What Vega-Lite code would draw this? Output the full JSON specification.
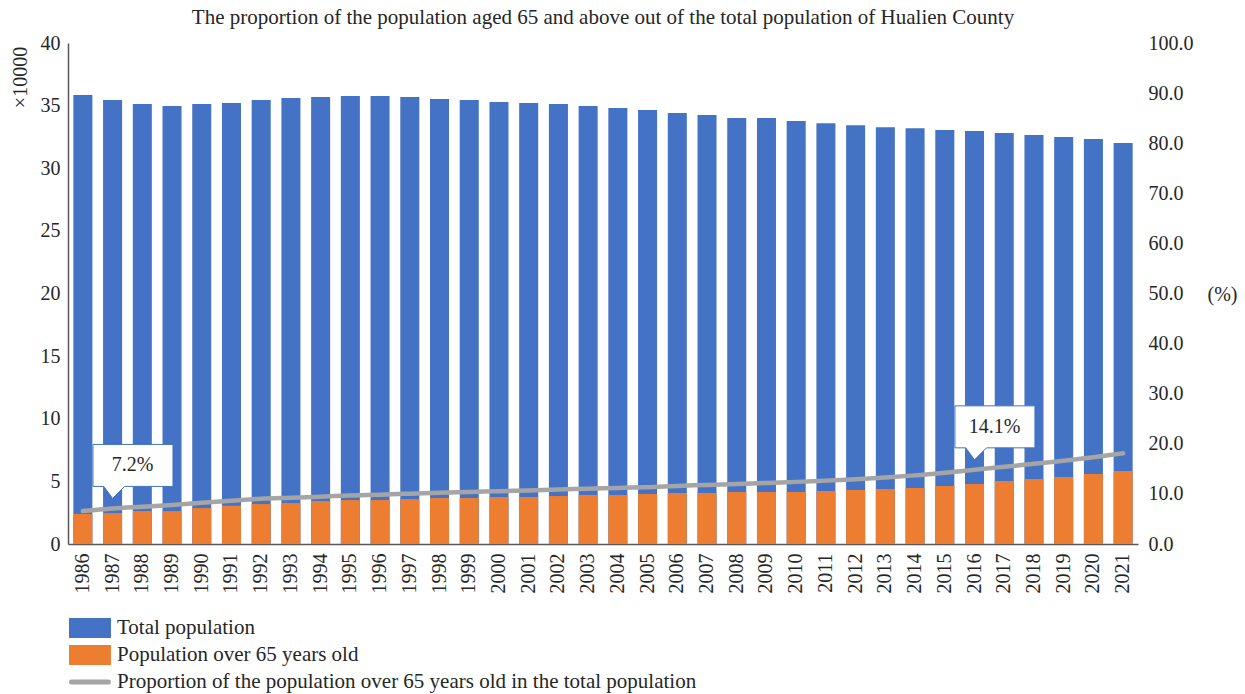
{
  "$schema": "https://vega.github.io/schema/vega-lite/v6.json",
  "width": 1070,
  "height": 501,
  "autosize": {"type": "none"},
  "padding": {"left": 68, "top": 43, "right": 107, "bottom": 150},
  "background": "white",
  "title": {
    "text": "The proportion of the population aged 65 and above out of the total population of Hualien County",
    "font": "Liberation Serif",
    "fontSize": 21,
    "fontWeight": "normal",
    "color": "#262626",
    "anchor": "middle",
    "offset": 5
  },
  "data": {
    "values": [
      {"year": "1986", "total": 35.85, "over65": 2.40, "pct": 6.6, "label": null},
      {"year": "1987", "total": 35.45, "over65": 2.47, "pct": 7.1, "label": "7.2%"},
      {"year": "1988", "total": 35.13, "over65": 2.63, "pct": 7.45, "label": null},
      {"year": "1989", "total": 34.97, "over65": 2.63, "pct": 7.8, "label": null},
      {"year": "1990", "total": 35.13, "over65": 2.87, "pct": 8.25, "label": null},
      {"year": "1991", "total": 35.21, "over65": 3.06, "pct": 8.65, "label": null},
      {"year": "1992", "total": 35.45, "over65": 3.19, "pct": 9.05, "label": null},
      {"year": "1993", "total": 35.61, "over65": 3.27, "pct": 9.25, "label": null},
      {"year": "1994", "total": 35.69, "over65": 3.43, "pct": 9.45, "label": null},
      {"year": "1995", "total": 35.77, "over65": 3.51, "pct": 9.7, "label": null},
      {"year": "1996", "total": 35.77, "over65": 3.51, "pct": 9.85, "label": null},
      {"year": "1997", "total": 35.69, "over65": 3.59, "pct": 10.05, "label": null},
      {"year": "1998", "total": 35.53, "over65": 3.67, "pct": 10.25, "label": null},
      {"year": "1999", "total": 35.45, "over65": 3.67, "pct": 10.4, "label": null},
      {"year": "2000", "total": 35.29, "over65": 3.75, "pct": 10.55, "label": null},
      {"year": "2001", "total": 35.21, "over65": 3.75, "pct": 10.7, "label": null},
      {"year": "2002", "total": 35.13, "over65": 3.83, "pct": 10.9, "label": null},
      {"year": "2003", "total": 34.97, "over65": 3.91, "pct": 11.05, "label": null},
      {"year": "2004", "total": 34.81, "over65": 3.91, "pct": 11.2, "label": null},
      {"year": "2005", "total": 34.65, "over65": 3.99, "pct": 11.35, "label": null},
      {"year": "2006", "total": 34.41, "over65": 4.07, "pct": 11.6, "label": null},
      {"year": "2007", "total": 34.25, "over65": 4.07, "pct": 11.8, "label": null},
      {"year": "2008", "total": 34.01, "over65": 4.15, "pct": 12.0, "label": null},
      {"year": "2009", "total": 34.01, "over65": 4.15, "pct": 12.2, "label": null},
      {"year": "2010", "total": 33.77, "over65": 4.15, "pct": 12.4, "label": null},
      {"year": "2011", "total": 33.6, "over65": 4.23, "pct": 12.65, "label": null},
      {"year": "2012", "total": 33.44, "over65": 4.31, "pct": 12.9, "label": null},
      {"year": "2013", "total": 33.28, "over65": 4.39, "pct": 13.25, "label": null},
      {"year": "2014", "total": 33.2, "over65": 4.47, "pct": 13.7, "label": null},
      {"year": "2015", "total": 33.05, "over65": 4.63, "pct": 14.2, "label": null},
      {"year": "2016", "total": 32.97, "over65": 4.79, "pct": 14.8, "label": "14.1%"},
      {"year": "2017", "total": 32.81, "over65": 5.03, "pct": 15.4, "label": null},
      {"year": "2018", "total": 32.65, "over65": 5.19, "pct": 16.0, "label": null},
      {"year": "2019", "total": 32.5, "over65": 5.35, "pct": 16.6, "label": null},
      {"year": "2020", "total": 32.34, "over65": 5.59, "pct": 17.3, "label": null},
      {"year": "2021", "total": 32.02, "over65": 5.83, "pct": 18.1, "label": null}
    ]
  },
  "encoding": {
    "x": {
      "field": "year",
      "type": "ordinal",
      "scale": {"paddingInner": 0.36, "paddingOuter": 0.18},
      "axis": {
        "title": null,
        "labelAngle": -90,
        "labelFont": "Liberation Serif",
        "labelFontSize": 20,
        "labelColor": "#262626",
        "labelPadding": 9,
        "ticks": false,
        "tickSize": 0,
        "domainColor": "#595959",
        "domainWidth": 1.5,
        "grid": false
      }
    }
  },
  "layer": [
    {
      "layer": [
        {
          "mark": {"type": "bar", "color": "#4472C4"},
          "encoding": {
            "y": {
              "field": "total",
              "type": "quantitative",
              "scale": {"domain": [0, 40]},
              "axis": {
                "orient": "left",
                "values": [0, 5, 10, 15, 20, 25, 30, 35, 40],
                "title": "×10000",
                "titleFont": "Liberation Serif",
                "titleFontSize": 20,
                "titleFontWeight": "normal",
                "titleColor": "#262626",
                "titleAngle": -90,
                "titleAlign": "center",
                "titleBaseline": "middle",
                "titleX": -48,
                "titleY": 34,
                "labelFont": "Liberation Serif",
                "labelFontSize": 20,
                "labelColor": "#262626",
                "labelPadding": 8,
                "ticks": false,
                "tickSize": 0,
                "domainColor": "#595959",
                "domainWidth": 1.5,
                "grid": false
              }
            },
            "color": {
              "datum": "Total population",
              "type": "nominal",
              "scale": {
                "domain": [
                  "Total population",
                  "Population over 65 years old",
                  "Proportion of the population over 65 years old in the total population"
                ],
                "range": ["#4472C4", "#ED7D31", "#A5A5A5"]
              },
              "legend": {
                "title": null,
                "orient": "none",
                "direction": "vertical",
                "legendX": 0,
                "legendY": 575,
                "padding": 0,
                "symbolSize": 196,
                "symbolStrokeWidth": 0,
                "clipHeight": 20,
                "labelOffset": 28,
                "rowPadding": 6,
                "labelFont": "Liberation Serif",
                "labelFontSize": 21,
                "labelColor": "#262626",
                "labelLimit": 900,
                "encode": {
                  "symbols": {
                    "update": {
                      "shape": {"signal": "datum.value === 'Proportion of the population over 65 years old in the total population' ? 'M-1,0H4.28' : 'M-1,-1.07H4.28V1.07H-1Z'"},
                      "fill": {"signal": "datum.value === 'Proportion of the population over 65 years old in the total population' ? 'transparent' : (datum.value === 'Total population' ? '#4472C4' : '#ED7D31')"},
                      "stroke": {"signal": "datum.value === 'Proportion of the population over 65 years old in the total population' ? '#A5A5A5' : 'transparent'"},
                      "strokeWidth": {"value": 5},
                      "strokeCap": {"value": "round"},
                      "opacity": {"value": 1}
                    }
                  }
                }
              }
            }
          }
        },
        {
          "mark": {"type": "bar", "color": "#ED7D31"},
          "encoding": {
            "y": {"field": "over65", "type": "quantitative"},
            "color": {"datum": "Population over 65 years old", "type": "nominal"}
          }
        }
      ]
    },
    {
      "layer": [
        {
          "mark": {"type": "line", "strokeWidth": 4.5, "interpolate": "monotone", "strokeCap": "round"},
          "encoding": {
            "y": {
              "field": "pct",
              "type": "quantitative",
              "scale": {"domain": [0, 100]},
              "axis": {
                "orient": "right",
                "values": [0, 10, 20, 30, 40, 50, 60, 70, 80, 90, 100],
                "format": ".1f",
                "title": "(%)",
                "titleFont": "Liberation Serif",
                "titleFontSize": 20,
                "titleFontWeight": "normal",
                "titleColor": "#262626",
                "titleAngle": 0,
                "titleAlign": "left",
                "titleBaseline": "middle",
                "titleX": 69,
                "titleY": 251,
                "labelFont": "Liberation Serif",
                "labelFontSize": 20,
                "labelColor": "#262626",
                "labelPadding": 10,
                "ticks": false,
                "tickSize": 0,
                "domain": false,
                "grid": false
              }
            },
            "color": {"datum": "Proportion of the population over 65 years old in the total population", "type": "nominal"}
          }
        },
        {
          "transform": [{"filter": "datum.label != null"}],
          "mark": {
            "type": "point",
            "shape": "M-0.49,-1.6H1.51V-0.55H0.3L0,-0.25L-0.22,-0.55H-0.49Z",
            "size": 6400,
            "filled": true,
            "fill": "white",
            "stroke": "#4472C4",
            "strokeWidth": 1,
            "opacity": 1
          },
          "encoding": {
            "y": {"field": "pct", "type": "quantitative"}
          }
        },
        {
          "transform": [{"filter": "datum.label != null"}],
          "mark": {
            "type": "text",
            "font": "Liberation Serif",
            "fontSize": 20,
            "color": "#262626",
            "align": "center",
            "baseline": "middle",
            "dx": 20,
            "dy": -43
          },
          "encoding": {
            "y": {"field": "pct", "type": "quantitative"},
            "text": {"field": "label", "type": "nominal"}
          }
        }
      ]
    }
  ],
  "resolve": {"scale": {"y": "independent"}},
  "config": {
    "view": {"stroke": null},
    "font": "Liberation Serif"
  }
}
